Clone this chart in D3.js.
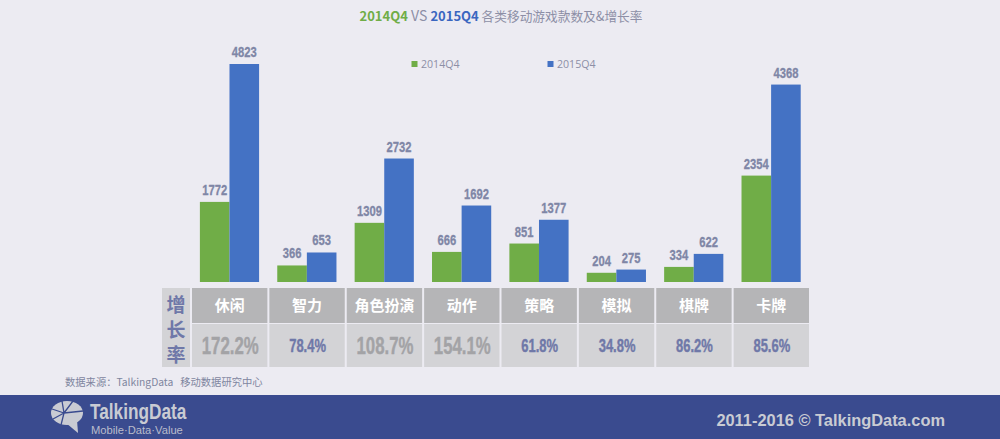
<!DOCTYPE html>
<html>
<head>
	<meta charset="UTF-8"/>
	<title>2014Q4 VS 2015Q4</title>
	<style type="text/css">
		html, body { margin: 0; padding: 0; background: #ecebf2; }
		svg { display: block; }
		text { font-family: 'Noto Sans CJK SC', 'Open Sans', sans-serif; }
		.value { font-family: 'Liberation Sans', sans-serif; font-weight: 700; font-size: 14px; fill: #7f86a6; stroke: #7f86a6; stroke-width: 0.3; text-anchor: middle; }
		.rate { font-family: 'Liberation Sans', sans-serif; font-weight: 700; stroke-width: 0.4; text-anchor: middle; }
		.cat { font-size: 15px; font-weight: 700; fill: #fff; text-anchor: middle; }
		.legend { font-family: 'Open Sans', sans-serif; font-size: 10.6px; fill: #8d8fa6; }
	</style>
	<script src="https://d3js.org/d3.v7.min.js"></script>
</head>
<body>
	<svg width="1000" height="439"></svg>
	<script>
		const categories = ['休闲', '智力', '角色扮演', '动作', '策略', '模拟', '棋牌', '卡牌'];
		const values2014 = [1772, 366, 1309, 666, 851, 204, 334, 2354];
		const values2015 = [4823, 653, 2732, 1692, 1377, 275, 622, 4368];
		const growthRates = [172.2, 78.4, 108.7, 154.1, 61.8, 34.8, 86.2, 85.6];
		const seriesNames = ['2014Q4', '2015Q4'];

		const green = '#70ad47';
		const blue = '#4472c4';
		const slate = '#6f78a8';

		const svg = d3.select('svg');

		// no narrow font installed, so squeeze the text to a share of its natural width
		function squeeze(sel, factor) {
			sel.each(function () {
				this.setAttribute('textLength', this.getComputedTextLength() * factor);
				this.setAttribute('lengthAdjust', 'spacingAndGlyphs');
			});
		}

		/* scales */
		const xScale = d3.scaleBand()
			.domain(categories)
			.range([191, 810]);
		const barWidth = 29.6;
		const yScale = d3.scaleLinear().domain([0, 5000]).range([282, 56]);
		const centre = (c) => xScale(c) + xScale.bandwidth() / 2;
		const barCentre = (c) => centre(c) - 0.2;

		/* title */
		const title = svg.append('text')
			.attr('x', 501).attr('y', 21)
			.attr('text-anchor', 'middle')
			.attr('font-size', 13)
			.attr('fill', '#8d8fa6');
		title.append('tspan').attr('fill', green).attr('font-weight', 700).text('2014Q4');
		title.append('tspan').attr('font-size', 14).text(' VS ');
		title.append('tspan').attr('fill', '#3a66c0').attr('font-weight', 700).text('2015Q4');
		title.append('tspan').attr('font-size', 12.7).text(' 各类移动游戏款数及&增长率');

		/* legend */
		seriesNames.forEach((name, i) => {
			const lx = 411.5 + i * 136;
			svg.append('rect').attr('x', lx).attr('y', 61).attr('width', 6).attr('height', 6)
				.attr('fill', i ? blue : green);
			svg.append('text').attr('class', 'legend').attr('x', lx + 9.5).attr('y', 68).text(name);
		});

		/* bars */
		[values2014, values2015].forEach((vals, i) => {
			const g = svg.append('g');
			g.selectAll('rect')
				.data(vals)
				.enter()
				.append('rect')
				.attr('x', (d, j) => barCentre(categories[j]) - barWidth + i * barWidth)
				.attr('y', (d) => yScale(d))
				.attr('width', barWidth)
				.attr('height', (d) => yScale(0) - yScale(d))
				.attr('fill', i ? blue : green);
			g.selectAll('text')
				.data(vals)
				.enter()
				.append('text')
				.attr('class', 'value')
				.attr('x', (d, j) => barCentre(categories[j]) - barWidth / 2 + i * barWidth)
				.attr('y', (d) => yScale(d) - 7)
				.text((d) => d)
				.call(squeeze, 0.8);
		});

		/* table under the bars */
		const table = svg.append('g');
		table.append('rect').attr('x', 162).attr('y', 288).attr('width', 28).attr('height', 79).attr('fill', '#d3d3d6');
		['增', '长', '率'].forEach((ch, i) => {
			table.append('text')
				.attr('x', 176).attr('y', 312 + i * 25)
				.attr('text-anchor', 'middle')
				.attr('font-size', 19).attr('font-weight', 700)
				.attr('fill', slate)
				.text(ch);
		});

		const cells = table.selectAll('g.col')
			.data(categories)
			.enter()
			.append('g')
			.attr('class', 'col');
		cells.append('rect')
			.attr('x', (c) => xScale(c) + 1).attr('y', 288)
			.attr('width', xScale.bandwidth() - 2).attr('height', 35)
			.attr('fill', '#b5b5b7');
		cells.append('rect')
			.attr('x', (c) => xScale(c) + 1).attr('y', 324)
			.attr('width', xScale.bandwidth() - 2).attr('height', 43)
			.attr('fill', '#d3d3d6');
		cells.append('text')
			.attr('class', 'cat')
			.attr('x', (c) => centre(c)).attr('y', 311)
			.text((c) => c);
		cells.append('text')
			.attr('class', 'rate')
			.attr('x', (c) => centre(c) + 0.5)
			.attr('y', (c, i) => growthRates[i] > 100 ? 354 : 352)
			.attr('font-size', (c, i) => growthRates[i] > 100 ? 24 : 17.5)
			.attr('fill', (c, i) => growthRates[i] > 100 ? '#a3a3a6' : slate)
			.attr('stroke', (c, i) => growthRates[i] > 100 ? '#a3a3a6' : slate)
			.text((c, i) => growthRates[i].toFixed(1) + '%')
			.each(function (c, i) {
				d3.select(this).call(squeeze, growthRates[i] > 100 ? 0.7 : 0.74);
			});

		/* source */
		svg.append('text')
			.attr('x', 65).attr('y', 386)
			.attr('font-size', 10.3)
			.attr('fill', '#7f86a0')
			.text('数据来源：TalkingData\u00a0\u00a0\u00a0移动数据研究中心');

		/* footer */
		svg.append('rect').attr('x', 0).attr('y', 395).attr('width', 1000).attr('height', 44).attr('fill', '#3a4b8f');

		const logo = svg.append('g').attr('transform', 'translate(67,413)');
		logo.append('ellipse').attr('rx', 16).attr('ry', 12).attr('fill', '#c9cbd3');
		logo.append('path').attr('d', 'M-1,10 L11,20 L10,7 Z').attr('fill', '#c9cbd3');
		logo.append('path')
			.attr('d', 'M-3,0 L-15,-4 M-3,0 L-5,-12 M-3,0 L6,-12 M-3,0 L16,-2 M-3,0 L-14,6 M-3,0 L-6,12')
			.attr('stroke', '#3a4b8f').attr('stroke-width', 1.3).attr('fill', 'none');

		svg.append('text')
			.attr('x', 90).attr('y', 419)
			.style('font-family', "'Liberation Sans', sans-serif")
			.attr('font-size', 22.5).attr('font-weight', 700)
			.attr('fill', '#c9cbd3')
			.text('TalkingData')
			.call(squeeze, 0.765);
		svg.append('text')
			.attr('x', 91).attr('y', 434)
			.style('font-family', "'Liberation Sans', sans-serif")
			.attr('font-size', 11.2)
			.attr('fill', '#b9bccb')
			.text('Mobile·Data·Value');
		svg.append('text')
			.attr('x', 945).attr('y', 426)
			.attr('text-anchor', 'end')
			.style('font-family', "'Liberation Sans', sans-serif")
			.attr('font-size', 16.4).attr('font-weight', 700)
			.attr('fill', '#c9cbd3')
			.text('2011-2016 © TalkingData.com');
	</script>
</body>
</html>
